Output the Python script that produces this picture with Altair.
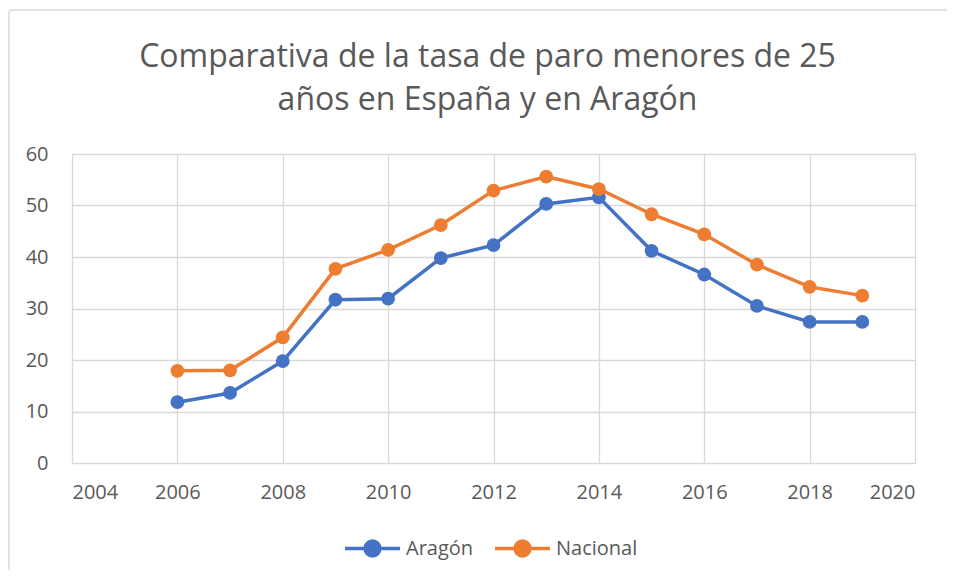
import altair as alt
import pandas as pd

years = [2006, 2007, 2008, 2009, 2010, 2011, 2012, 2013, 2014, 2015, 2016, 2017, 2018, 2019]
aragon = [11.8, 13.6, 19.8, 31.7, 31.9, 39.8, 42.3, 50.3, 51.6, 41.2, 36.6, 30.5, 27.4, 27.4]
nacional = [17.9, 18.0, 24.4, 37.7, 41.4, 46.2, 52.9, 55.6, 53.2, 48.3, 44.4, 38.5, 34.2, 32.5]
series = ["Aragón", "Nacional"]
colors = ["#4472C4", "#ED7D31"]
x_ticks = [2004, 2006, 2008, 2010, 2012, 2014, 2016, 2018, 2020]
y_ticks = [0, 10, 20, 30, 40, 50, 60]
title_lines = ["Comparativa de la tasa de paro menores de 25", "años en España y en Aragón"]

rows = []
for y, a, n in zip(years, aragon, nacional):
    rows.append({"Año": y, "Serie": series[0], "Tasa": a})
    rows.append({"Año": y, "Serie": series[1], "Tasa": n})
df = pd.DataFrame(rows)

FONT = "Open Sans"
GRAY = "#595959"

symbol_path = "M-1,0L1,0M-0.27,0A0.27,0.27 0 1,0 0.27,0A0.27,0.27 0 1,0 -0.27,0Z"

base = alt.Chart(df).encode(
    x=alt.X("Año:Q",
            scale=alt.Scale(domain=[2004, 2020], nice=False, zero=False),
            axis=alt.Axis(values=x_ticks, format="d", title=None, domain=False, ticks=False,
                          grid=True, gridColor="#D9D9D9", gridWidth=1.3,
                          labelFont=FONT, labelFontSize=20, labelColor=GRAY, labelPadding=19)),
    y=alt.Y("Tasa:Q",
            scale=alt.Scale(domain=[0, 60], nice=False),
            axis=alt.Axis(values=y_ticks, title=None, domain=False, ticks=False,
                          grid=True, gridColor="#D9D9D9", gridWidth=1.3,
                          labelFont=FONT, labelFontSize=20, labelColor=GRAY, labelPadding=24)),
    color=alt.Color("Serie:N",
                    scale=alt.Scale(domain=series, range=colors),
                    legend=alt.Legend(title=None, orient="none", direction="horizontal",
                                      legendX=271, legendY=365,
                                      symbolType=symbol_path, symbolSize=3025,
                                      symbolStrokeWidth=3.5,
                                      labelFont=FONT, labelFontSize=20, labelColor=GRAY,
                                      labelOffset=4, columnPadding=14)),
)

lines = base.mark_line(strokeWidth=3.5)
points = base.mark_circle(size=190, opacity=1)

frame = alt.Chart(pd.DataFrame({"k": [0]})).mark_rect(
    fill=None, stroke="#D9D9D9", strokeWidth=1.5, cornerRadius=3
).encode(
    x=alt.value(-63), x2=alt.value(1000), y=alt.value(-144), y2=alt.value(500)
)

title = alt.Chart(pd.DataFrame({"t": [title_lines]})).mark_text(
    font=FONT, fontSize=32, color=GRAY, align="center", baseline="middle", lineHeight=43
).encode(
    text="t:N", x=alt.value(415.5), y=alt.value(-97)
)

chart = alt.layer(frame, title, lines, points).properties(
    width=843,
    height=309,
    autosize=alt.AutoSizeParams(type="none"),
    padding={"left": 64, "top": 146, "right": 32, "bottom": 107},
).configure_view(stroke=None).configure(background="white")

chart.save("out.html", embed_options={"renderer": "svg", "actions": False})
